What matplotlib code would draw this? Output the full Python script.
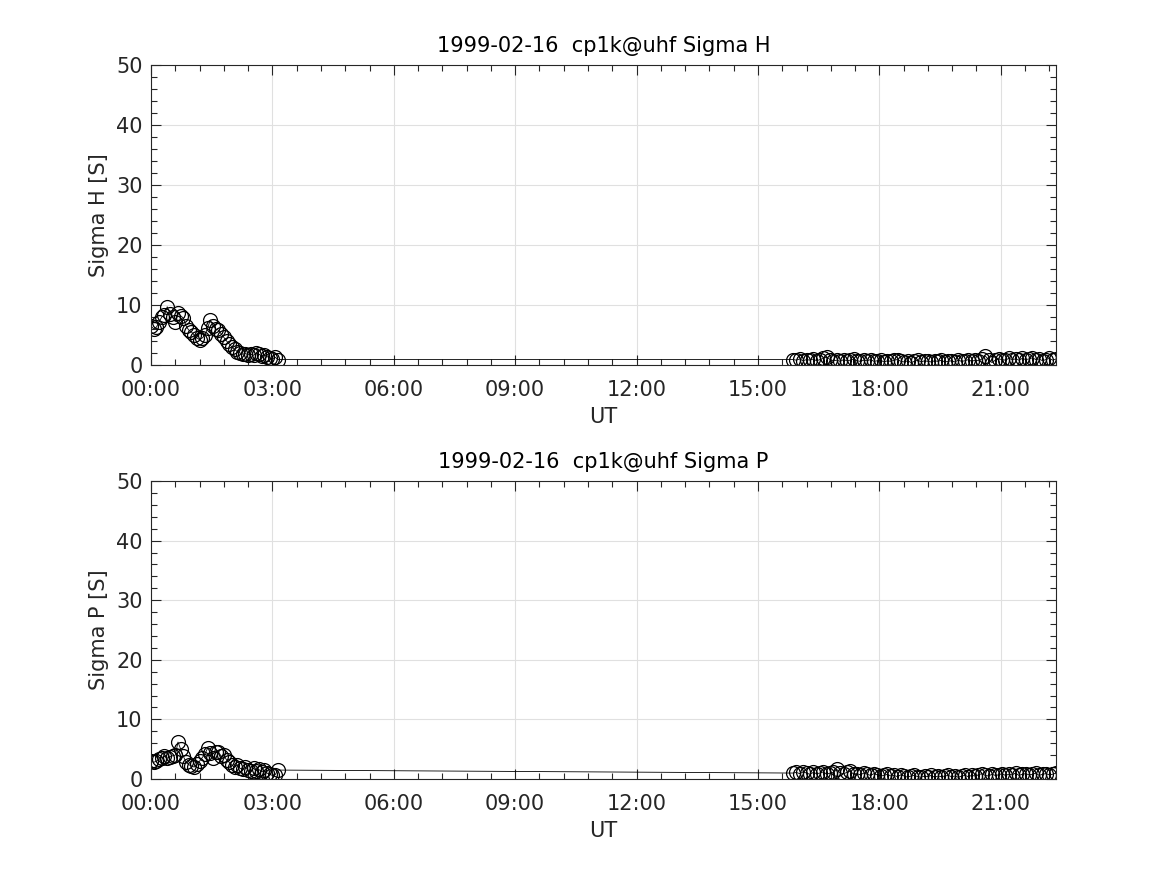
import matplotlib
matplotlib.use("Agg")
import matplotlib.pyplot as plt
from matplotlib.ticker import MultipleLocator, FixedLocator

plt.rcParams['font.family'] = ['DejaVu Sans']

# times in minutes of day
t_morning = [0, 4, 8, 12, 16, 20, 24, 28, 32, 36, 40, 44, 48, 52, 56, 60, 64, 68, 72, 76,
             80, 84, 88, 92, 96, 100, 104, 108, 112, 116, 120, 124, 128, 132, 136, 140,
             144, 148, 152, 156, 160, 164, 168, 172, 176, 180, 184, 188]
t_evening = [952, 957, 962, 967, 972, 977, 982, 987, 992, 997, 1002, 1007, 1012, 1017, 1022,
             1027, 1032, 1037, 1042, 1047, 1052, 1057, 1062, 1067, 1072, 1077, 1082, 1087,
             1092, 1097, 1102, 1107, 1112, 1117, 1122, 1127, 1132, 1137, 1142, 1147, 1152,
             1157, 1162, 1167, 1172, 1177, 1182, 1187, 1192, 1197, 1202, 1207, 1212, 1217,
             1222, 1227, 1232, 1237, 1242, 1247, 1252, 1257, 1262, 1267, 1272, 1277, 1282,
             1287, 1292, 1297, 1302, 1307, 1312, 1317, 1322, 1327, 1332, 1337, 1342]

sigH_morning = [6.5, 6.0, 6.3, 7.2, 8.0, 8.3, 9.7, 8.5, 8.0, 7.2, 8.7, 8.2, 7.8, 6.5, 5.8,
                5.5, 5.0, 4.5, 4.2, 4.5, 5.0, 6.2, 7.5, 6.5, 6.0, 5.8, 5.2, 4.6, 4.0, 3.5,
                3.0, 2.6, 2.2, 2.0, 1.8, 1.9, 1.7, 1.8, 1.6, 2.0, 1.8, 1.5, 1.7, 1.4, 1.2,
                1.0, 1.3, 0.9]
sigH_evening = [0.9, 0.8, 1.0, 0.7, 0.9, 0.8, 1.0, 0.7, 0.9, 1.1, 1.3, 0.9, 0.7, 0.8, 0.6,
                0.9, 0.7, 0.8, 1.0, 0.7, 0.6, 0.8, 0.7, 0.9, 0.6, 0.7, 0.8, 0.5, 0.7, 0.6,
                0.8, 0.9, 0.6, 0.5, 0.7, 0.4, 0.6, 0.8, 0.5, 0.7, 0.6, 0.5, 0.7, 0.6, 0.8,
                0.5, 0.6, 0.7, 0.5, 0.8, 0.6, 0.7, 0.9, 0.6, 0.8, 0.7, 1.0, 1.5, 0.9, 0.4,
                0.8, 1.0, 0.9, 0.8, 1.1, 0.9, 1.0, 0.8, 1.1, 0.9, 1.0, 1.2, 0.9, 1.0, 0.7,
                0.9, 1.1, 0.8, 1.0]

sigP_morning = [3.0, 2.8, 3.0, 3.3, 3.6, 3.8, 3.5, 3.7, 3.9, 4.0, 6.2, 5.0, 3.8, 2.8, 2.4,
                2.2, 2.0, 2.5, 3.0, 3.6, 4.2, 5.2, 4.4, 3.5, 4.5, 4.6, 3.8, 4.0, 3.2, 2.8,
                2.3, 2.0, 2.4, 1.8, 1.6, 2.0, 1.5, 1.3, 1.8, 1.4, 1.6, 1.2, 1.5, 1.0, 0.8,
                0.6, 0.7, 1.5]
sigP_evening = [1.0, 1.1, 0.9, 1.2, 1.0, 0.8, 1.1, 0.9, 1.0, 1.2,
                0.8, 1.0, 1.1, 1.6, 1.0, 0.9, 1.1, 1.3, 0.8, 0.9,
                0.7, 1.0, 0.8, 0.6, 0.9, 0.7, 0.5, 0.6, 0.8, 0.5,
                0.6, 0.4, 0.7, 0.5, 0.3, 0.5, 0.6, 0.4, 0.3, 0.5,
                0.4, 0.6, 0.3, 0.5, 0.4, 0.5, 0.6, 0.4, 0.5, 0.3,
                0.5, 0.6, 0.4, 0.6, 0.5, 0.7, 0.9, 0.6, 0.5, 0.8,
                0.6, 0.7, 0.9, 0.6, 0.8, 0.7, 1.0, 0.6, 0.8, 0.9,
                0.7, 0.8, 1.0, 0.6, 0.8, 0.9, 0.7, 0.8, 1.0]

xtick_hours = [0, 3, 6, 9, 12, 15, 18, 21]
xtick_labels = ["00:00", "03:00", "06:00", "09:00", "12:00", "15:00", "18:00", "21:00"]

date_str = "1999-02-16"
panels = [
    ("Sigma H", sigH_morning, sigH_evening, [0.1294, 0.5829, 0.7755, 0.3429]),
    ("Sigma P", sigP_morning, sigP_evening, [0.1294, 0.1097, 0.7755, 0.3406]),
]

fig = plt.figure(figsize=(11.67, 8.75), dpi=100)
axcol = '#262626'
times = [m / 60.0 for m in t_morning + t_evening]

for name, vm, ve, pos in panels:
    ax = fig.add_axes(pos)
    vals = vm + ve
    ax.plot(times, vals, '-', color='black', lw=0.6, marker='o', markersize=10,
            markerfacecolor='none', markeredgecolor='black', markeredgewidth=0.9)
    ax.set_xlim(times[0], times[-1])
    ax.set_ylim(0, 50)
    ax.xaxis.set_major_locator(FixedLocator(xtick_hours))
    ax.set_xticklabels(xtick_labels)
    ax.xaxis.set_minor_locator(MultipleLocator(0.6))
    ax.yaxis.set_major_locator(MultipleLocator(10))
    ax.yaxis.set_minor_locator(MultipleLocator(2))
    ax.tick_params(which='both', direction='in', top=True, right=True, colors=axcol,
                   labelsize=15, width=0.8)
    ax.tick_params(which='major', length=7)
    ax.tick_params(which='minor', length=4)
    ax.tick_params(axis='x', which='major', pad=11)
    ax.tick_params(axis='y', which='major', pad=6)
    ax.grid(True, which='major', color='#e0e0e0', lw=0.8)
    ax.set_axisbelow(True)
    for s in ax.spines.values():
        s.set_color(axcol)
        s.set_linewidth(0.8)
    ax.set_title(f"{date_str}  cp1k@uhf {name}", fontsize=15, color='black', pad=9)
    ax.set_xlabel("UT", fontsize=15, color=axcol, labelpad=5)
    ax.set_ylabel(f"{name} [S]", fontsize=15, color=axcol, labelpad=5)

fig.savefig("out.png", dpi=100)
